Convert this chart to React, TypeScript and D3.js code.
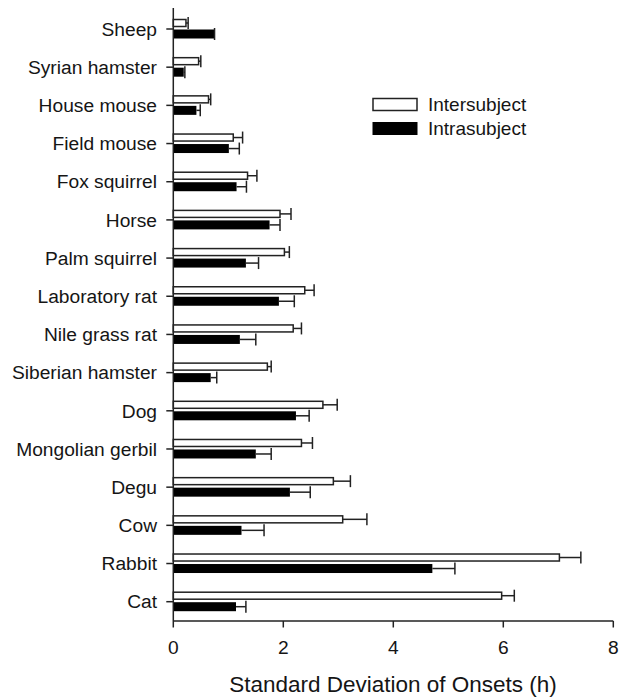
import React from "react";
import * as d3 from "d3";

const species = [
  "Sheep", "Syrian hamster", "House mouse", "Field mouse", "Fox squirrel", "Horse",
  "Palm squirrel", "Laboratory rat", "Nile grass rat", "Siberian hamster", "Dog",
  "Mongolian gerbil", "Degu", "Cow", "Rabbit", "Cat",
];
const interMean = [0.23, 0.46, 0.64, 1.09, 1.35, 1.94, 2.02, 2.39, 2.18, 1.71, 2.72, 2.33, 2.91, 3.08, 7.02, 5.97];
const interErr = [0.27, 0.5, 0.68, 1.26, 1.52, 2.14, 2.11, 2.56, 2.33, 1.78, 2.98, 2.53, 3.22, 3.52, 7.41, 6.2];
const intraMean = [0.74, 0.19, 0.42, 1.01, 1.15, 1.75, 1.32, 1.92, 1.21, 0.68, 2.23, 1.5, 2.12, 1.24, 4.71, 1.14];
const intraErr = [0.75, 0.21, 0.49, 1.2, 1.33, 1.94, 1.55, 2.2, 1.5, 0.79, 2.47, 1.78, 2.49, 1.65, 5.12, 1.32];
const xTicks = [0, 2, 4, 6, 8];
const legendLabels = ["Intersubject", "Intrasubject"];
const xTitle = "Standard Deviation of Onsets (h)";

const FONT = "'Liberation Sans', Arial, Helvetica, sans-serif";

export default function App() {
  const x = d3.scaleLinear().domain([0, 8]).range([173.3, 613.3]);
  const y = d3.scalePoint<string>().domain(species).range([29, 601.7]);
  const x0 = x(0);
  const axisBottom = 621;
  const stroke = "#222";
  const textCol = "#151515";

  return (
    <svg
      width={634}
      height={699}
      style={{ position: "absolute", left: 0, top: 0, background: "#fff" }}
      fontFamily={FONT}
    >
      {/* bars */}
      {species.map((s, i) => {
        const t = y(s)!;
        const wTop = t - 9.5;
        const wH = 7;
        const bTop = t + 0.5;
        const bH = 9;
        const wc = wTop + wH / 2;
        const bc = bTop + bH / 2;
        return (
          <g key={s}>
            <rect x={x0} y={wTop} width={x(interMean[i]) - x0} height={wH} fill="#fff" stroke={stroke} strokeWidth={1.5} />
            <line x1={x(interMean[i])} x2={x(interErr[i])} y1={wc} y2={wc} stroke={stroke} strokeWidth={1.5} />
            <line x1={x(interErr[i])} x2={x(interErr[i])} y1={wc - 6} y2={wc + 6} stroke={stroke} strokeWidth={1.5} />
            <rect x={x0} y={bTop} width={x(intraMean[i]) - x0} height={bH} fill="#000" />
            <line x1={x(intraMean[i])} x2={x(intraErr[i])} y1={bc} y2={bc} stroke={stroke} strokeWidth={1.5} />
            <line x1={x(intraErr[i])} x2={x(intraErr[i])} y1={bc - 6} y2={bc + 6} stroke={stroke} strokeWidth={1.5} />
          </g>
        );
      })}

      {/* y axis */}
      <line x1={x0} x2={x0} y1={8} y2={axisBottom} stroke={stroke} strokeWidth={1.5} />
      {species.map((s) => (
        <g key={"yl" + s}>
          <line x1={x0 - 7} x2={x0} y1={y(s)!} y2={y(s)!} stroke={stroke} strokeWidth={1.5} />
          <text x={157} y={y(s)!} dy="0.35em" textAnchor="end" fontSize={19.2} fill={textCol}>
            {s}
          </text>
        </g>
      ))}

      {/* x axis */}
      <line x1={x0} x2={x(8)} y1={axisBottom} y2={axisBottom} stroke={stroke} strokeWidth={1.5} />
      {xTicks.map((v) => (
        <g key={"xt" + v}>
          <line x1={x(v)} x2={x(v)} y1={axisBottom} y2={axisBottom + 6.5} stroke={stroke} strokeWidth={1.5} />
          <text x={x(v)} y={647} dy="0.35em" textAnchor="middle" fontSize={19.2} fill={textCol}>
            {v}
          </text>
        </g>
      ))}
      <text x={393} y={692} textAnchor="middle" fontSize={22.5} fill={textCol}>
        {xTitle}
      </text>

      {/* legend */}
      <rect x={373} y={98.5} width={44} height={12} fill="#fff" stroke={stroke} strokeWidth={1.5} />
      <text x={428} y={104.5} dy="0.35em" fontSize={19} fill={textCol}>{legendLabels[0]}</text>
      <rect x={372.5} y={122} width={45} height={13} fill="#000" />
      <text x={428} y={128.5} dy="0.35em" fontSize={19} fill={textCol}>{legendLabels[1]}</text>
    </svg>
  );
}
